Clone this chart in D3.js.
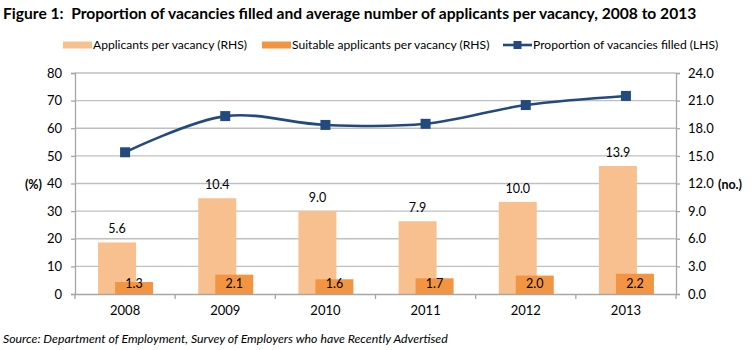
<!DOCTYPE html>
<html>
<head>
<meta charset="utf-8">
<script src="https://cdn.jsdelivr.net/npm/d3@7"></script>
<style>
  body { margin: 0; background: #fff; }
  text { font-family: Lato, "Open Sans", sans-serif; fill: #000; }
</style>
</head>
<body>
<div id="chart"></div>
<script>
const years = ["2008", "2009", "2010", "2011", "2012", "2013"];
const applicants = [5.6, 10.4, 9.0, 7.9, 10.0, 13.9];
const suitable = [1.3, 2.1, 1.6, 1.7, 2.0, 2.2];
const filled = [51.3, 64.4, 61.2, 61.6, 68.4, 71.7];
const leftTicks = [0, 10, 20, 30, 40, 50, 60, 70, 80];
const rightTicks = [0, 3, 6, 9, 12, 15, 18, 21, 24];

const W = 755, H = 350;
const margin = {top: 73, right: 79, bottom: 56, left: 75},
    width = W - margin.left - margin.right,
    height = H - margin.top - margin.bottom;

const lightCol = "#f9c08f", darkCol = "#f39443", lineCol = "#234a7e", gridCol = "#bfbfbf";

const root = d3.select("#chart").append("svg")
    .attr("width", W)
    .attr("height", H);

root.append("text")
    .attr("x", 3).attr("y", 19)
    .attr("xml:space", "preserve")
    .style("white-space", "pre")
    .style("font-size", "15.6px")
    .style("font-weight", "bold")
    .text("Figure 1:  Proportion of vacancies filled and average number of applicants per vacancy, 2008 to 2013");

root.append("text")
    .attr("x", 3).attr("y", 343)
    .style("font-size", "12.3px")
    .style("font-style", "italic")
    .text("Source: Department of Employment, Survey of Employers who have Recently Advertised");

const svg = root.append("g")
    .attr("transform", `translate(${margin.left},${margin.top})`);

const x = d3.scaleBand().domain(years).range([0, width]);
const yL = d3.scaleLinear().domain([0, 80]).range([height, 0]);
const yR = d3.scaleLinear().domain([0, 24]).range([height, 0]);

// gridlines
svg.append("g")
    .selectAll("line")
    .data(leftTicks.slice(1))
    .enter().append("line")
    .attr("x1", 0).attr("x2", width)
    .attr("y1", d => yL(d)).attr("y2", d => yL(d))
    .attr("stroke", gridCol).attr("stroke-width", 1.3);

// bars
const bw = 38;
svg.selectAll(".lbar")
    .data(applicants)
    .enter().append("rect")
    .attr("x", (d, i) => x(years[i]) + x.bandwidth() / 2 - 27)
    .attr("y", d => yR(d))
    .attr("width", bw)
    .attr("height", d => height - yR(d))
    .attr("fill", lightCol);

svg.selectAll(".dbar")
    .data(suitable)
    .enter().append("rect")
    .attr("x", (d, i) => x(years[i]) + x.bandwidth() / 2 - 10)
    .attr("y", d => yR(d))
    .attr("width", bw)
    .attr("height", d => height - yR(d))
    .attr("fill", darkCol);

svg.selectAll(".llab")
    .data(applicants)
    .enter().append("text")
    .attr("x", (d, i) => x(years[i]) + x.bandwidth() / 2 - 8)
    .attr("y", d => yR(d) - 9)
    .attr("text-anchor", "middle")
    .style("font-size", "12.5px")
    .text(d => d.toFixed(1));

svg.selectAll(".dlab")
    .data(suitable)
    .enter().append("text")
    .attr("x", (d, i) => x(years[i]) + x.bandwidth() / 2 + 9)
    .attr("y", height - 6)
    .attr("text-anchor", "middle")
    .style("font-size", "12.5px")
    .text(d => d.toFixed(1));

// axes
const axL = svg.append("g")
    .call(d3.axisLeft(yL).tickValues(leftTicks).tickSize(4).tickPadding(9));
const axR = svg.append("g")
    .attr("transform", `translate(${width},0)`)
    .call(d3.axisRight(yR).tickValues(rightTicks).tickSize(4).tickPadding(8).tickFormat(d3.format(".1f")));
const axB = svg.append("g")
    .attr("transform", `translate(0,${height})`)
    .call(d3.axisBottom(x).tickSize(0).tickPadding(12));

[axL, axR, axB].forEach(a => {
    a.select(".domain").attr("stroke", "#a6a6a6").attr("stroke-width", 1.3);
    a.selectAll(".tick line").attr("stroke", "#a6a6a6").attr("stroke-width", 1.3);
    a.selectAll("text").style("font-size", "13px").style("font-family", "Lato, sans-serif").attr("fill", "#000");
});

// category separators on x axis
svg.append("g")
    .selectAll("line")
    .data(years)
    .enter().append("line")
    .attr("x1", d => x(d)).attr("x2", d => x(d))
    .attr("y1", height).attr("y2", height + 5)
    .attr("stroke", "#a6a6a6").attr("stroke-width", 1.3);
svg.append("line")
    .attr("x1", width).attr("x2", width)
    .attr("y1", height).attr("y2", height + 5)
    .attr("stroke", "#a6a6a6").attr("stroke-width", 1.3);

svg.append("text")
    .attr("x", -33).attr("y", yL(40) + 5)
    .attr("text-anchor", "end")
    .style("font-size", "12.5px").style("font-weight", "bold")
    .text("(%)");
svg.append("text")
    .attr("x", width + 42).attr("y", yR(12) + 5)
    .style("font-size", "12.5px").style("font-weight", "bold")
    .text("(no.)");

// line
const line = d3.line()
    .x((d, i) => x(years[i]) + x.bandwidth() / 2)
    .y(d => yL(d))
    .curve(d3.curveCatmullRom.alpha(0.5));

svg.append("path")
    .datum(filled)
    .attr("d", line)
    .attr("fill", "none")
    .attr("stroke", lineCol)
    .attr("stroke-width", 2.6);

svg.selectAll(".pt")
    .data(filled)
    .enter().append("rect")
    .attr("x", (d, i) => x(years[i]) + x.bandwidth() / 2 - 5)
    .attr("y", d => yL(d) - 5)
    .attr("width", 10).attr("height", 10)
    .attr("fill", lineCol);

// legend
const legend = root.append("g").attr("transform", "translate(0,45)");
const items = [
    {label: "Applicants per vacancy (RHS)", x: 63, type: "bar", color: lightCol},
    {label: "Suitable applicants per vacancy (RHS)", x: 262, type: "bar", color: darkCol},
    {label: "Proportion of vacancies filled (LHS)", x: 503, type: "line", color: lineCol}
];
items.forEach(it => {
    const g = legend.append("g").attr("transform", `translate(${it.x},0)`);
    if (it.type === "bar") {
        g.append("rect").attr("x", 0).attr("y", -3.5).attr("width", 29).attr("height", 7).attr("fill", it.color);
    } else {
        g.append("line").attr("x1", 0).attr("x2", 29).attr("y1", 0).attr("y2", 0)
            .attr("stroke", it.color).attr("stroke-width", 2.6);
        g.append("rect").attr("x", 10.5).attr("y", -4).attr("width", 8).attr("height", 8).attr("fill", it.color);
    }
    g.append("text").attr("x", 30).attr("y", 4)
        .style("font-size", "12.1px")
        .text(it.label);
});
</script>
</body>
</html>
